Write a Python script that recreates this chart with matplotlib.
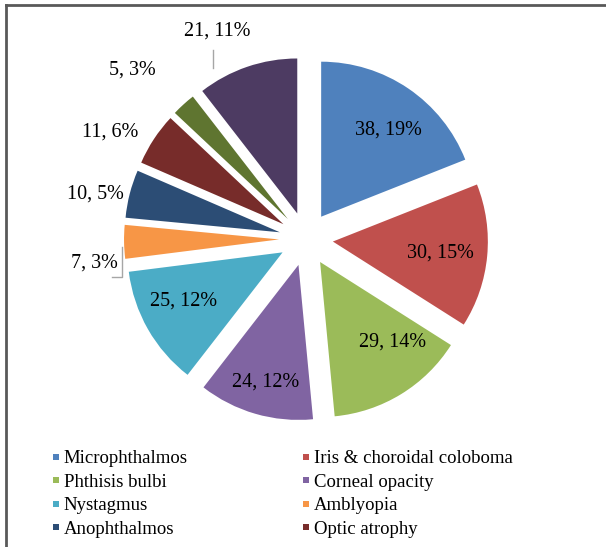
import numpy as np
import matplotlib.pyplot as plt
from matplotlib.lines import Line2D

plt.rcParams['font.family'] = ['Liberation Serif', 'DejaVu Serif']

# Data (clockwise from 12 o'clock)
categories = ["Microphthalmos", "Iris & choroidal coloboma", "Phthisis bulbi",
              "Corneal opacity", "Nystagmus", "Amblyopia", "Anophthalmos",
              "Optic atrophy", None, None]
counts = [38, 30, 29, 24, 25, 7, 10, 11, 5, 21]
pct_labels = ["19%", "15%", "14%", "12%", "12%", "3%", "5%", "6%", "3%", "11%"]
colors = ["#4F81BD", "#C0504D", "#9BBB59", "#8064A2", "#4BACC6",
          "#F79646", "#2C4D75", "#772C2A", "#5F7530", "#4D3B62"]

# label placement: distance (in radii) from slice centre, and clockwise shift (deg)
label_r = [0.708, 0.70, 0.694, 0.784, 0.714, 1.203, 1.217, 1.267, 1.391, 1.286]
label_shift = [3.6, 0.7, -10.5, -0.7, 3.7, -6.4, -2.7, -5.3, -4.0, -4.8]

W, H = 606, 547
R_PX = 155.0
CX, CY = 306, 239

fig = plt.figure(figsize=(W / 100, H / 100), dpi=100)
ax = fig.add_axes([0, 0, 1, 1])

wedges, _ = ax.pie(counts, colors=colors, startangle=90, counterclock=False,
                   explode=[0.174] * len(counts),
                   wedgeprops=dict(linewidth=0))

ax.set_xlim(-CX / R_PX, (W - CX) / R_PX)
ax.set_ylim(-(H - CY) / R_PX, CY / R_PX)
ax.set_aspect('equal')
ax.axis('off')

# Data labels
label_xy = []
for i, w in enumerate(wedges):
    mid = np.deg2rad((w.theta1 + w.theta2) / 2 - label_shift[i])
    cx, cy = w.center
    x = cx + label_r[i] * np.cos(mid)
    y = cy + label_r[i] * np.sin(mid)
    label_xy.append((x, y))
    ax.text(x, y, f"{counts[i]}, {pct_labels[i]}", ha='center', va='center',
            fontsize=14.5, color='black')

# Leader lines for two outside labels
x, y = label_xy[9]
ax.plot([x - 0.026, x - 0.026], [y - 0.123, y - 0.239], color='#A6A6A6', lw=1)
x, y = label_xy[5]
ax.plot([x + 0.181, x + 0.181, x + 0.116], [y + 0.103, y - 0.09, y - 0.09],
        color='#A6A6A6', lw=1)

# Legend (row-major, 2 columns)
handles = [Line2D([], [], marker='s', linestyle='', markersize=4.5,
                  markerfacecolor=c, markeredgewidth=0) for c in colors[:8]]
labels = categories[:8]
order = [0, 2, 4, 6, 1, 3, 5, 7]
fig.legend([handles[k] for k in order], [labels[k] for k in order],
           ncol=2, loc='upper left', bbox_to_anchor=(51 / W, 1 - 450 / H),
           frameon=False, fontsize=13.5, handlelength=0.5, handletextpad=0.18,
           labelspacing=0.34, columnspacing=6.05, borderpad=0, borderaxespad=0)

# Chart border (left and top visible)
fig.add_artist(Line2D([6 / W, 6 / W], [0, 1 - 5 / H], color='#595959', lw=2,
                      transform=fig.transFigure))
fig.add_artist(Line2D([6 / W, 1], [1 - 5 / H, 1 - 5 / H], color='#595959', lw=2,
                      transform=fig.transFigure))

fig.savefig("out.png", dpi=100)
